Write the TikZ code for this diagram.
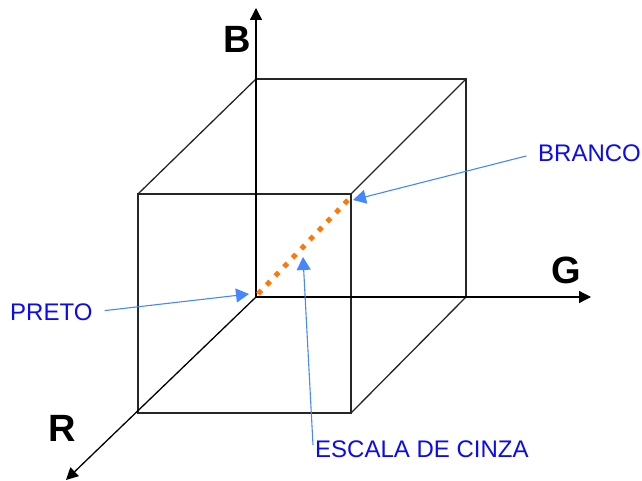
\documentclass[tikz,border=0pt]{standalone}
\usepackage{fontspec}
\setmainfont{Liberation Sans}
\usetikzlibrary{arrows.meta,positioning,calc}
\definecolor{lblblue}{RGB}{10,10,245}
\definecolor{ptrblue}{RGB}{70,135,255}
\definecolor{grayorange}{RGB}{255,120,10}
\tikzset{
  cubeedge/.style={draw=black!85, line width=1.3pt},
  axisline/.style={-{Triangle[length=12pt,width=12pt]}, line width=1.3pt, color=black},
  axislbl/.style={font=\fontsize{38}{38}\selectfont\bfseries, inner sep=0pt},
  lbl/.style={font=\fontsize{24}{24}\selectfont, text=lblblue, inner sep=0pt},
  pointer/.style={-{Triangle[length=13pt,width=14pt]}, line width=1.1pt, color=ptrblue},
  grayline/.style={line width=5pt, color=grayorange, dash pattern=on 5pt off 7.5pt},
}
\begin{document}
\begin{tikzpicture}[x=1pt,y=-1pt]
  \useasboundingbox (0,0) rectangle (642,481);
  % corners of the cube
  \coordinate (o)   at (256,297);
  \coordinate (btl) at (256,79);
  \coordinate (btr) at (466,79);
  \coordinate (bbr) at (466,297);
  \coordinate (ftl) at (138,194);
  \coordinate (ftr) at (351,194);
  \coordinate (fbr) at (351,413);
  \coordinate (fbl) at (138,413);
  % axis ends
  \coordinate (bend) at (256,8);
  \coordinate (gend) at (591,297);
  \coordinate (rend) at (66,480);
  % cube
  \draw[cubeedge] (btl) -- (btr) -- (bbr);
  \draw[cubeedge] (ftl) -- (ftr) -- (fbr) -- (fbl) -- cycle;
  \draw[cubeedge] (ftl) -- (btl);
  \draw[cubeedge] (ftr) -- (btr);
  \draw[cubeedge] (fbr) -- (bbr);
  % axes
  \draw[axisline] (o) -- (bend);
  \draw[axisline] (o) -- (gend);
  \draw[axisline] (o) -- (rend);
  \node[axislbl] (blbl) at (237,39) {B};
  \node[axislbl] (glbl) at (566,270) {G};
  \node[axislbl] (rlbl) at (62,428) {R};
  % gray scale diagonal
  \draw[grayline] ($(o)+(2,-3)$) -- ($(ftr)+(-1,4)$);
  \coordinate (mid) at (303,257);
  % labels
  \node[lbl, anchor=west] (preto) at (10,312) {PRETO};
  \node[lbl, anchor=west] (branco) at (538,153) {BRANCO};
  \node[lbl, anchor=north west] (escala) at (315,441) {ESCALA DE CINZA};
  \draw[pointer, shorten <=12pt] (preto.east) -- ($(o)+(-7,-3)$);
  \draw[pointer, shorten <=12pt] (branco.west) -- ($(ftr)+(2,6)$);
  \draw[pointer] ($(escala.north west)+(-2,4)$) -- (mid);
\end{tikzpicture}
\end{document}
